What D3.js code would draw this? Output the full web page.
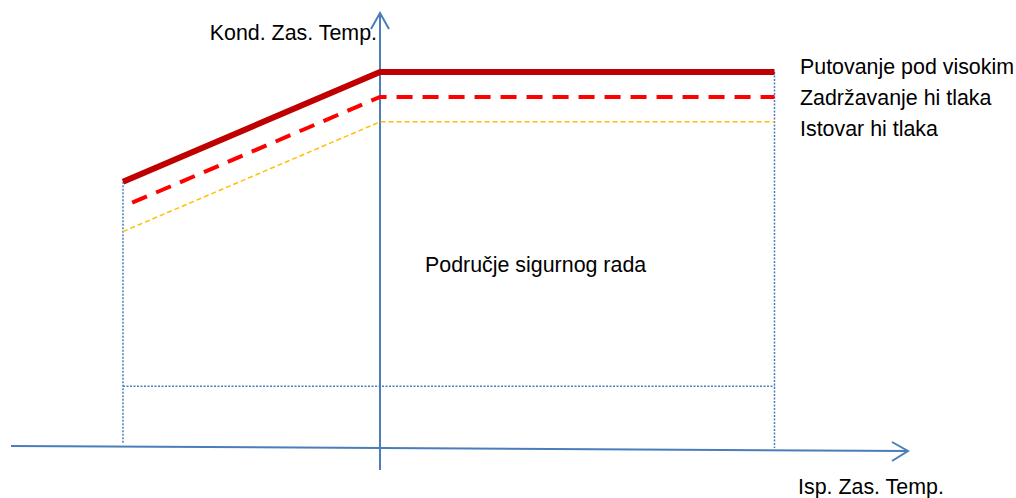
<!DOCTYPE html>
<html>
<head>
<meta charset="utf-8">
<script src="https://cdn.jsdelivr.net/npm/d3@7"></script>
<style>
  body { margin: 0; background: #fff; }
  svg text { font-family: "Liberation Sans", Arial, sans-serif; font-size: 21.4px; fill: #000; }
</style>
</head>
<body>
<div id="vis"></div>
<script>
// evaporating temperature points (left limit, y axis, right limit)
var evapTemps = [-20, 0, 30.7];
// condensing temperature limits for each series at those points
var seriesNames = ['Putovanje pod visokim', 'Zadržavanje hi tlaka', 'Istovar hi tlaka'];
var highTravel = [53, 75, 75];
var highHold = [48, 70, 70];
var highUnload = [43, 65, 65];
var lowLimit = 12;

var width = 1016;
var height = 498;

var svg = d3.select('#vis')
            .append('svg')
            .attr('width', width)
            .attr('height', height);

var xScale = d3.scaleLinear()
                .domain([-20, 0])
                .range([123, 380]);
var yScale = d3.scaleLinear()
                .domain([0, 75])
                .range([446, 72]);

var axisColor = '#4a7ebb';

// safe area dotted frame
var xl = xScale(evapTemps[0]), xr = xScale(evapTemps[2]);
svg.append('line')
    .attr('x1', xl).attr('y1', yScale(highTravel[0]))
    .attr('x2', xl).attr('y2', 444)
    .attr('stroke', axisColor).attr('stroke-width', 1.5)
    .attr('stroke-dasharray', '2,1.5');
svg.append('line')
    .attr('x1', xr).attr('y1', yScale(highTravel[2]))
    .attr('x2', xr).attr('y2', 448)
    .attr('stroke', axisColor).attr('stroke-width', 1.5)
    .attr('stroke-dasharray', '2,1.5');
svg.append('line')
    .attr('x1', xl).attr('y1', yScale(lowLimit))
    .attr('x2', xr).attr('y2', yScale(lowLimit))
    .attr('stroke', axisColor).attr('stroke-width', 1.5)
    .attr('stroke-dasharray', '2,1.5');

// axes with arrow heads
svg.append('path')
    .attr('d', 'M11,446 L908,451 M892,442 L908,451 L892,461')
    .attr('fill', 'none')
    .attr('stroke', axisColor).attr('stroke-width', 2);
svg.append('path')
    .attr('d', 'M380,470 L380,13 M371,29 L380,13 L389,29')
    .attr('fill', 'none')
    .attr('stroke', axisColor).attr('stroke-width', 2);

var line = d3.line()
    .x(function(d, i) { return xScale(evapTemps[i]); })
    .y(function(d) { return yScale(d); });

// yellow first so the others sit on top
svg.append('path')
    .attr('d', line(highUnload))
    .attr('fill', 'none')
    .attr('stroke', '#ffc000').attr('stroke-width', 1.5)
    .attr('stroke-dasharray', '5,3');
svg.append('path')
    .attr('d', line(highHold))
    .attr('fill', 'none')
    .attr('stroke', '#ff0000').attr('stroke-width', 4)
    .attr('stroke-dasharray', '16,10')
    .attr('stroke-dashoffset', 16);
svg.append('path')
    .attr('d', line(highTravel))
    .attr('fill', 'none')
    .attr('stroke', '#c00000').attr('stroke-width', 6);

// labels
var ends = [highTravel[2], highHold[2], highUnload[2]];
svg.selectAll('.series-label')
    .data(seriesNames)
    .enter().append('text')
    .attr('class', 'series-label')
    .attr('x', 800)
    .attr('y', function(d, i) { return yScale(ends[i]) + 2 + i * 6; })
    .text(function(d) { return d; });

svg.append('text')
    .attr('x', 377).attr('y', 40)
    .attr('text-anchor', 'end')
    .text('Kond. Zas. Temp.');
svg.append('text')
    .attr('x', 425).attr('y', 272)
    .text('Područje sigurnog rada');
svg.append('text')
    .attr('x', 798).attr('y', 494)
    .text('Isp. Zas. Temp.');
</script>
</body>
</html>
